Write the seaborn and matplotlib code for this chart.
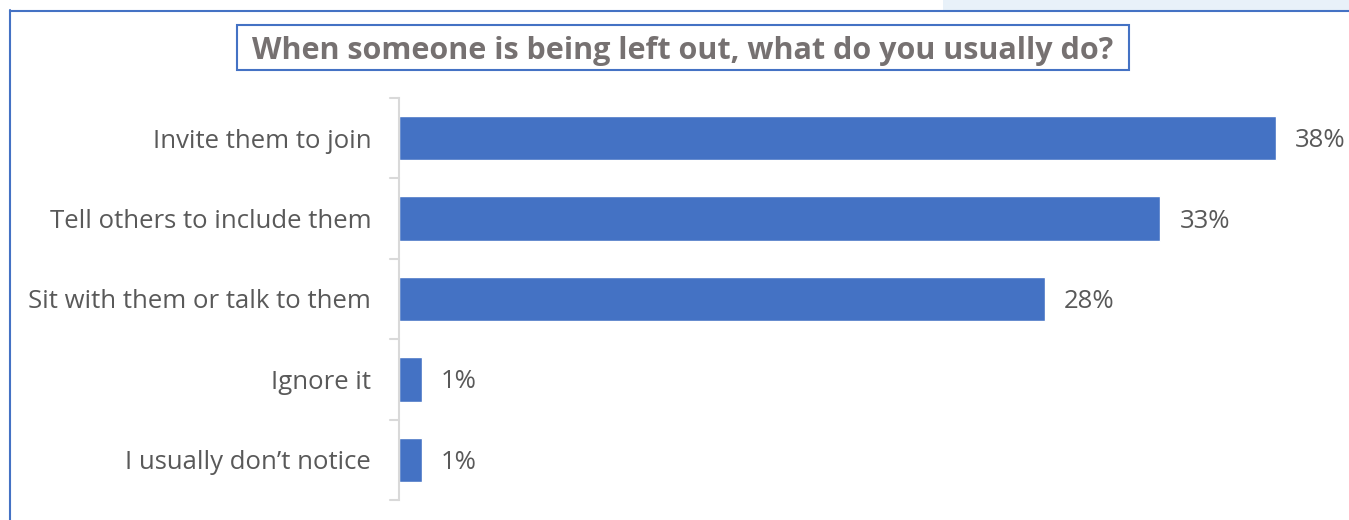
import matplotlib
matplotlib.use("Agg")
import matplotlib.pyplot as plt
from matplotlib.patches import Rectangle
import seaborn as sns
import pandas as pd

categories = [
    "Invite them to join",
    "Tell others to include them",
    "Sit with them or talk to them",
    "Ignore it",
    "I usually don\u2019t notice",
]
values = [38, 33, 28, 1, 1]
value_labels = ["38%", "33%", "28%", "1%", "1%"]
title = "When someone is being left out, what do you usually do?"

sns.set_theme(style="white")
plt.rcParams["font.family"] = ["Open Sans", "DejaVu Sans"]

TEXT = "#595959"
BAR = "#4472C4"
FRAME = "#4472C4"

W, H = 1349, 520
fig = plt.figure(figsize=(W / 100, H / 100), dpi=100)


def px_rect(x0, y0, x1, y1, **kw):
    """Rectangle given in pixel coordinates measured from the top-left corner."""
    return Rectangle((x0 / W, 1 - y1 / H), (x1 - x0) / W, (y1 - y0) / H,
                     transform=fig.transFigure, **kw)


# light panel strip in the top-right corner and the chart frame
fig.patches.append(px_rect(943, 0, W, 10, facecolor="#E8F1F9",
                           edgecolor="none", zorder=0))
fig.lines.append(plt.Line2D([10 / W, 10 / W], [0, 1 - 10 / H],
                            transform=fig.transFigure, color=FRAME, lw=1.5))
fig.lines.append(plt.Line2D([10 / W, 1], [1 - 10.5 / H, 1 - 10.5 / H],
                            transform=fig.transFigure, color=FRAME, lw=1.5))

ax = fig.add_axes([399 / W, 1 - 500 / H, (1322 - 399) / W, (500 - 98) / H])

df = pd.DataFrame({"category": categories, "value": values})
sns.barplot(data=df, x="value", y="category", ax=ax, color=BAR,
            saturation=1, width=0.55, orient="h")

ax.set_xlim(0, 40)
ax.set_ylim(len(categories) - 0.5, -0.5)
ax.set_xlabel("")
ax.set_ylabel("")
ax.set_xticks([])
ax.set_yticks(range(len(categories)))
ax.set_yticklabels(categories, color=TEXT, fontsize=18.5)
ax.tick_params(axis="y", length=0, pad=20)
for s in ["top", "right", "bottom"]:
    ax.spines[s].set_visible(False)
ax.spines["left"].set_color("#D9D9D9")
ax.spines["left"].set_linewidth(1.5)

# category separators on the value axis
for b in [i - 0.5 for i in range(len(categories) + 1)]:
    ax.plot([-0.4, 0], [b, b], color="#D9D9D9", lw=1.5, clip_on=False)

for i, (v, lab) in enumerate(zip(values, value_labels)):
    ax.text(v + 0.82, i + 0.03, lab, va="center", ha="left", color=TEXT,
            fontsize=18.5, clip_on=False)

# boxed title
fig.patches.append(px_rect(237, 25, 1129, 70, facecolor="white",
                           edgecolor=FRAME, linewidth=1.5, zorder=1))
fig.text((237 + 1129) / 2 / W, 1 - 47.5 / H, title, ha="center",
         va="center_baseline", fontsize=22, fontweight="bold",
         color="#767171", zorder=2)

fig.savefig("out.png", dpi=100)
